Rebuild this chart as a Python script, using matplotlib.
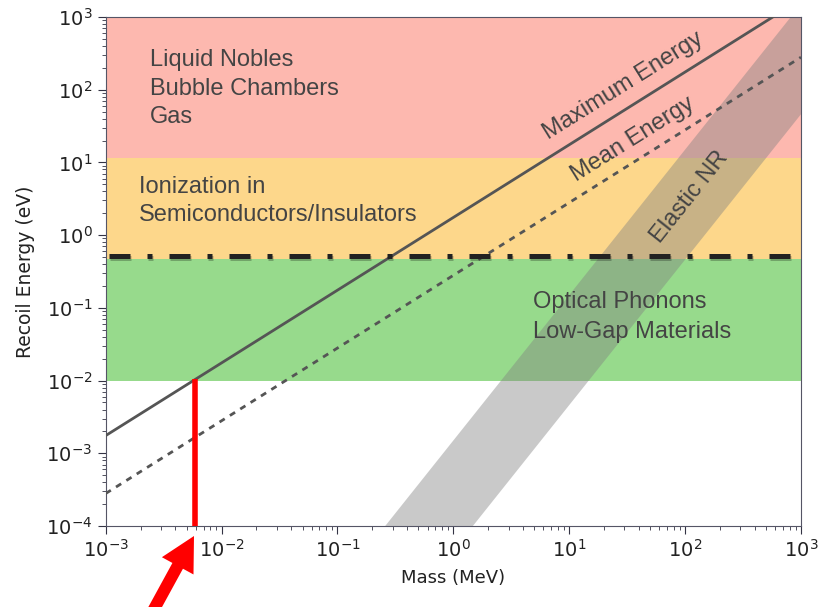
import numpy as np
import matplotlib
matplotlib.use("Agg")
import matplotlib.pyplot as plt
import matplotlib.patheffects as pe
from matplotlib.patches import FancyArrow
from matplotlib.transforms import IdentityTransform

# ---- data ----
mass_range = [1e-3, 1e3]                 # MeV
max_energy = [1.75e-3, 1.75e3]           # eV (Maximum Energy line)
mean_energy = [2.8e-4, 2.8e2]            # eV (Mean Energy line)
nr_mass = [0.1, 1e3]
nr_upper = [1.5e-5, 1.5e3]               # elastic NR band, left edge (E ~ m^2)
nr_lower = [4.6e-7, 4.6e1]               # elastic NR band, right edge
band_red = [11.5, 1e3]
band_orange = [0.47, 11.5]
band_green = [1e-2, 0.47]
threshold = 0.52
threshold_span = [1.07e-3, 8.5e2]
marker_mass = 5.9e-3
marker_top = 1.05e-2
x_ticks = [1e-3, 1e-2, 1e-1, 1e0, 1e1, 1e2, 1e3]
y_ticks = [1e-4, 1e-3, 1e-2, 1e-1, 1e0, 1e1, 1e2, 1e3]

fig = plt.figure(figsize=(8.19, 6.07), dpi=100)
ax = fig.add_axes([0.129, 0.1334, 0.849, 0.8386])
ax.set_xscale('log')
ax.set_yscale('log')

ax.axhspan(*band_red, color='#fdb8af', lw=0, zorder=0)
ax.axhspan(*band_orange, color='#fdd78b', lw=0, zorder=0)
ax.axhspan(*band_green, color='#97da8c', lw=0, zorder=0)

nm = np.logspace(np.log10(nr_mass[0]), np.log10(nr_mass[1]), 50)
up = np.interp(np.log10(nm), np.log10(nr_mass), np.log10(nr_upper))
lo = np.interp(np.log10(nm), np.log10(nr_mass), np.log10(nr_lower))
ax.fill_between(nm, 10**lo, 10**up, color='#808080', alpha=0.42, lw=0, zorder=2)

ax.plot(mass_range, max_energy, color='#555555', lw=2, zorder=3)
ax.plot(mass_range, mean_energy, color='#555555', lw=2, ls=(0, (2.2, 2.2)), zorder=3)

ax.plot(threshold_span, [threshold, threshold], color='#222222', lw=3.6,
        ls=(0, (4.2, 3.4, 1, 3.4)), zorder=4,
        path_effects=[pe.SimpleLineShadow(offset=(0.8, -1.8), shadow_color='k', alpha=0.25),
                      pe.Normal()])

ax.plot([marker_mass, marker_mass], [1e-4, marker_top], color='#ff0000', lw=4,
        solid_capstyle='butt', zorder=5, clip_on=False)

tc = '#444444'
fs = 17
fam = 'Liberation Sans'
ax.text(2.4e-3, 10**2.41, 'Liquid Nobles', color=tc, fontsize=fs, va='center', family=fam)
ax.text(2.4e-3, 10**2.01, 'Bubble Chambers', color=tc, fontsize=fs, va='center', family=fam)
ax.text(2.4e-3, 10**1.62, 'Gas', color=tc, fontsize=fs, va='center', family=fam)
ax.text(10**-2.71, 10**0.66, 'Ionization in', color=tc, fontsize=fs, va='center', family=fam)
ax.text(10**-2.71, 10**0.277, 'Semiconductors/Insulators', color=tc, fontsize=fs, va='center', family=fam)
ax.text(10**0.687, 10**-0.92, 'Optical Phonons', color=tc, fontsize=fs, va='center', family=fam)
ax.text(10**0.687, 10**-1.333, 'Low-Gap Materials', color=tc, fontsize=fs, va='center', family=fam)
ax.text(10**1.465, 10**2.05, 'Maximum Energy', color=tc, fontsize=fs, va='center', ha='center',
        rotation=32, rotation_mode='anchor', family=fam)
ax.text(10**1.55, 10**1.32, 'Mean Energy', color=tc, fontsize=fs, va='center', ha='center',
        rotation=32, rotation_mode='anchor', family=fam)
ax.text(10**2.04, 10**0.52, 'Elastic NR', color=tc, fontsize=fs, va='center', ha='center',
        rotation=51.5, rotation_mode='anchor', family=fam)

ax.set_xticks(x_ticks)
ax.set_yticks(y_ticks)
ax.set_xlim(1e-3, 1e3)
ax.set_ylim(1e-4, 1e3)
ax.set_xlabel('Mass (MeV)', fontsize=13, color='#222222', labelpad=6)
ax.set_ylabel('Recoil Energy (eV)', fontsize=13.5, color='#222222', labelpad=8)
ax.tick_params(axis='both', which='major', labelsize=14, length=6, color='#333344', labelcolor='#222222')
ax.tick_params(axis='both', which='minor', length=3, color='#333344')
for s in ax.spines.values():
    s.set_color('#555566')

arrow = FancyArrow(153, -4, 41, 75, width=12, head_width=36, head_length=34,
                   length_includes_head=True, color='#ff0000', lw=0,
                   transform=IdentityTransform())
fig.add_artist(arrow)

fig.savefig('out.png', dpi=100)
